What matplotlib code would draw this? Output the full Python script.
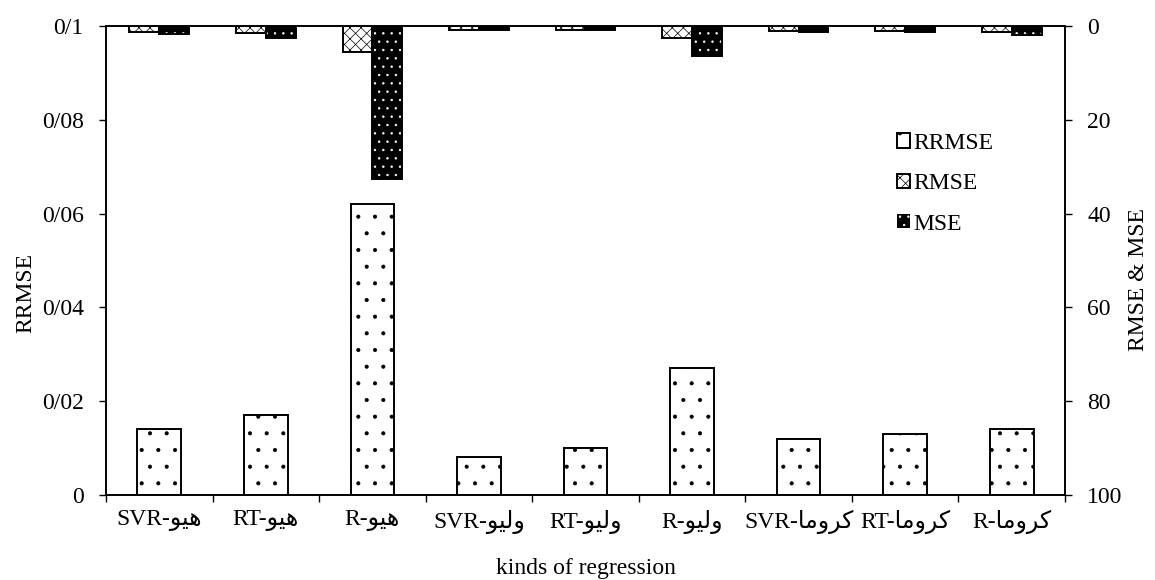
import matplotlib
matplotlib.use("Agg")
import matplotlib.pyplot as plt
import numpy as np

plt.rcParams['font.family'] = ['Liberation Serif', 'DejaVu Sans']
plt.rcParams['hatch.linewidth'] = 0.5

# ---------------- data ----------------
words = ['هیو', 'ولیو', 'کروما']
models = ['SVR', 'RT', 'R']
rrmse = [0.014, 0.017, 0.062, 0.008, 0.010, 0.027, 0.012, 0.013, 0.014]
rmse = [1.2, 1.5, 5.6, 0.9, 0.9, 2.6, 1.1, 1.1, 1.3]
mse = [1.7, 2.6, 32.7, 0.9, 0.9, 6.3, 1.3, 1.3, 1.9]
left_ticks = [0, 0.02, 0.04, 0.06, 0.08, 0.1]
left_tick_labels = ['0', '0/02', '0/04', '0/06', '0/08', '0/1']
right_ticks = [0, 20, 40, 60, 80, 100]
series_names = ['RRMSE', 'RMSE', 'MSE']

# ---- minimal Arabic-script shaping (matplotlib has no bidi/shaping) ----
_FORMS = {
    'ه': ('\uFEE9', '\uFEEA', '\uFEEB', '\uFEEC'),
    'ي': ('\uFEF1', '\uFEF2', '\uFEF3', '\uFEF4'),
    'ی': ('\uFEF1', '\uFEF2', '\uFEF3', '\uFEF4'),
    'و': ('\uFEED', '\uFEEE', None, None),
    'ل': ('\uFEDD', '\uFEDE', '\uFEDF', '\uFEE0'),
    'ك': ('\uFED9', '\uFEDA', '\uFEDB', '\uFEDC'),
    'ک': ('\uFED9', '\uFEDA', '\uFEDB', '\uFEDC'),
    'ر': ('\uFEAD', '\uFEAE', None, None),
    'م': ('\uFEE1', '\uFEE2', '\uFEE3', '\uFEE4'),
    'ا': ('\uFE8D', '\uFE8E', None, None),
}


def shape(word):
    out = []
    n = len(word)
    for i, ch in enumerate(word):
        iso, fin, ini, med = _FORMS[ch]
        prev_j = i > 0 and _FORMS[word[i - 1]][2] is not None
        next_j = i < n - 1 and ini is not None
        if prev_j and next_j:
            out.append(med)
        elif prev_j:
            out.append(fin)
        elif next_j:
            out.append(ini)
        else:
            out.append(iso)
    return ''.join(reversed(out))


categories = [f"{m}-{shape(w)}" for w in words for m in models]
x = np.arange(len(categories))

# ---------------- figure ----------------
fig = plt.figure(figsize=(11.55, 5.8), dpi=100)
ax = fig.add_axes([106 / 1155, 85 / 580, 959 / 1155, 469 / 580])
ax2 = ax.twinx()

FS = 17

b1 = ax.bar(x, rrmse, width=0.41, color='white', edgecolor='black',
            hatch='.', linewidth=1.4, zorder=2)
ax.set_ylim(0, 0.1)
ax.set_xlim(-0.5, len(categories) - 0.5)

b2 = ax2.bar(x - 0.14, rmse, width=0.28, color='white', edgecolor='black',
             hatch='xxx', linewidth=1.4, zorder=2)
# MSE: black fill with white pattern, then outline
b3 = ax2.bar(x + 0.14, mse, width=0.28, color='black', edgecolor='white',
             hatch='..', linewidth=0, zorder=2)
ax2.bar(x + 0.14, mse, width=0.28, fill=False, edgecolor='black',
        linewidth=1.4, zorder=3)
ax2.set_ylim(100, 0)

# ticks
ax.set_yticks(left_ticks, left_tick_labels, fontsize=FS)
ax2.set_yticks(right_ticks, [str(t) for t in right_ticks], fontsize=FS)
ax.set_xticks(np.arange(-0.5, len(categories), 1.0))
ax.set_xticklabels([])
ax.set_xticks(x, minor=True)
ax.set_xticklabels(categories, minor=True, fontsize=FS)
ax.tick_params(axis='x', which='major', direction='out', length=5, width=1)
ax.tick_params(axis='x', which='minor', length=0, pad=11)
ax.tick_params(axis='y', direction='out', length=5, width=1, pad=11)
ax2.tick_params(axis='y', direction='out', length=5, width=1, pad=11)

for a in (ax, ax2):
    for s in a.spines.values():
        s.set_linewidth(1.2)

ax.set_ylabel('RRMSE', fontsize=FS, labelpad=4)
ax.yaxis.label.set_y(0.43)
ax2.set_ylabel('RMSE & MSE', fontsize=FS, labelpad=4)
ax2.yaxis.label.set_y(0.46)
ax.set_xlabel('kinds of regression', fontsize=FS, labelpad=17)

leg = ax2.legend([b1, b2, b3], series_names, loc='upper left',
                 bbox_to_anchor=(0.825, 0.772), frameon=False, fontsize=FS,
                 handlelength=0.55, handleheight=0.55, handletextpad=0.15,
                 labelspacing=0.82, borderaxespad=0, borderpad=0)

fig.savefig('out.png', dpi=100)
